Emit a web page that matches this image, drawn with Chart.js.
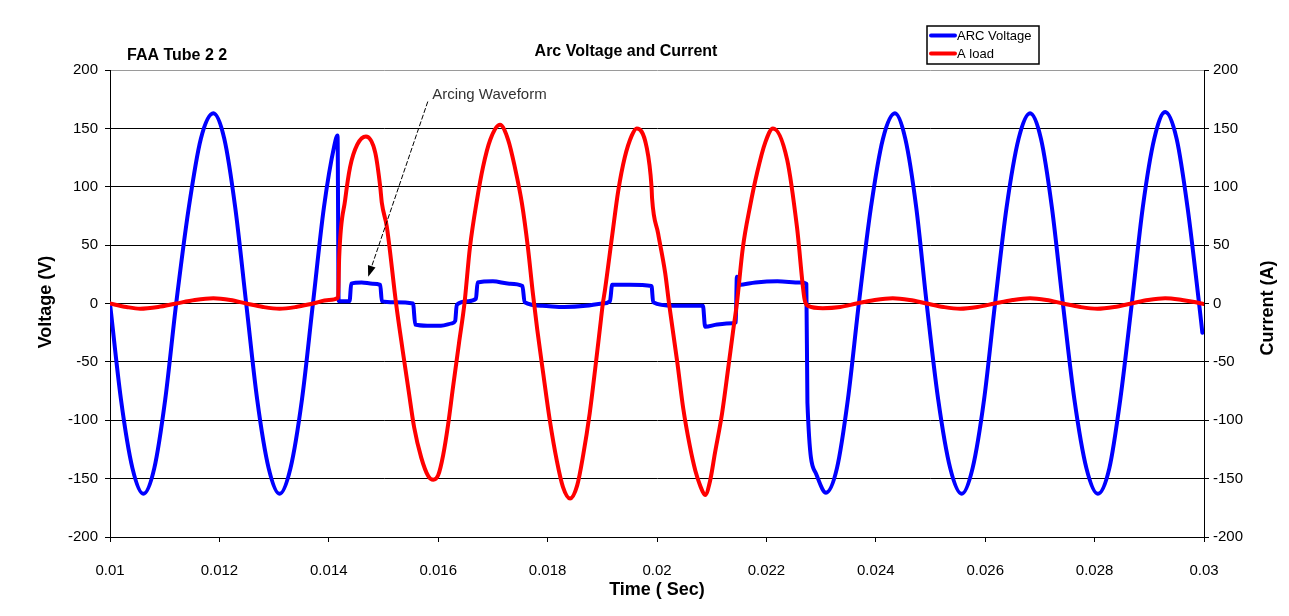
<!DOCTYPE html>
<html>
<head>
<meta charset="utf-8">
<title>Arc Voltage and Current</title>
<script src="https://cdn.jsdelivr.net/npm/chart.js@4.4.1/dist/chart.umd.min.js"></script>
<style>
  html, body { margin:0; padding:0; background:#fff; }
  #wrap { width:1289px; height:616px; position:relative; }
</style>
</head>
<body>
<div id="wrap"><canvas id="arcChart" width="1289" height="616"></canvas></div>
<script>
// Valores (tiempo en s)
const voltageTime = [
  0.01000,0.01020,0.01041,0.01061,0.01081,0.01101,0.01121,0.01144,0.01166,0.01189,0.01209,0.01229,
  0.01249,0.01269,0.01290,0.01310,0.01330,0.01351,0.01371,0.01391,0.01410,0.01416,0.01418,
  0.01438,0.01441,0.01460,0.01480,0.01494,0.01497,0.01520,0.01554,0.01558,0.01580,
  0.01605,0.01625,0.01631,0.01634,0.01655,0.01669,0.01672,0.01700,0.01730,0.01754,
  0.01758,0.01790,0.01830,0.01870,0.01900,0.01914,0.01918,0.01950,0.01990,0.01993,
  0.02030,0.02084,0.02088,0.02110,0.02139,0.02144,0.02146,0.02150,0.02180,0.02220,
  0.02262,0.02273,
  0.02275,0.02290,0.02309,0.02329,0.02349,0.02369,0.02391,0.02413,0.02435,0.02454,0.02474,0.02493,
  0.02514,0.02536,0.02557,0.02577,0.02598,0.02618,0.02639,0.02661,0.02682,0.02702,0.02722,0.02742,
  0.02763,0.02785,0.02806,0.02827,0.02847,0.02868,0.02888,0.02909,0.02929,0.02950,0.02970,0.02991,0.02997
];
const voltage = [
  0,-82,-141,-163,-141,-82,0,82,141,163,141,82,
  0,-82,-141,-163,-141,-82,0,82,135,144,2,
  2,17,18,17,16,2,1,0,-18,-19,
  -19,-17,-15,-1,2,4,18,19,17,15,
  1,-2,-3,-2,0,2,16,16,15,1,
  -2,-2,-20,-18,-17,-16,23,16,18,19,
  18,17,
  -85,-145,-162,-141,-82,0,82,141,163,141,82,0,
  -82,-141,-163,-141,-82,0,82,141,163,141,82,0,
  -82,-141,-163,-141,-82,0,82,141,164,141,82,0,-25
];

const currentTime = [
  0.01000,0.01030,0.01055,0.01088,0.01121,0.01155,0.01189,0.01220,0.01249,0.01280,0.01310,0.01340,0.01371,0.01400,0.01417,
  0.01419,0.01430,0.01439,0.01452,0.01468,0.01485,0.01494,0.01497,0.01506,0.01523,
  0.01535,0.01546,0.01556,0.01569,0.01582,0.01591,0.01600,0.01609,0.01618,0.01627,0.01638,0.01648,
  0.01658,0.01671,0.01682,0.01695,0.01713,0.01728,0.01740,0.01753,0.01764,0.01773,
  0.01781,0.01792,0.01804,0.01817,0.01828,0.01841,0.01854,0.01865,0.01877,0.01887,0.01896,0.01901,
  0.01905,0.01918,0.01929,0.01941,0.01954,0.01963,0.01981,0.01990,0.01991,0.02002,0.02015,0.02022,
  0.02037,0.02048,0.02060,0.02070,0.02079,0.02088,0.02097,0.02106,0.02119,0.02130,0.02139,0.02146,
  0.02157,0.02170,0.02183,0.02198,0.02212,0.02238,0.02256,0.02270,
  0.02276,0.02303,0.02335,0.02365,0.02398,0.02431,0.02462,0.02493,0.02524,0.02554,0.02586,0.02617,
  0.02650,0.02682,0.02712,0.02742,0.02774,0.02805,0.02836,0.02867,0.02898,0.02929,0.02960,0.02985,0.03000
];
const current = [
  0,-3,-4.5,-3,0,3,4.5,3,0,-3,-4.5,-3,0,3,5,
  40,89,117,136,143,129,100,86,66,0,
  -40,-75,-106,-132,-148,-151,-147,-130,-104,-72,-34,0,
  48,89,117,140,153,140,117,86,48,9,
  -22,-60,-100,-135,-157,-167,-156,-130,-94,-56,-20,0,
  12,58,96,125,144,150,134,100,90,60,26,0,
  -50,-90,-122,-143,-156,-164,-152,-128,-94,-56,-24,0,
  48,83,112,138,150,123,65,3,
  -2,-4,-3,0,3,4.5,3,0,-3,-4.5,-3,0,
  3,4.5,3,0,-3,-4.5,-3,0,3,4.5,3,1,-0.5
];

const xTicks = [0.01,0.012,0.014,0.016,0.018,0.02,0.022,0.024,0.026,0.028,0.03];
const xTickLabels = ['0.01','0.012','0.014','0.016','0.018','0.02','0.022','0.024','0.026','0.028','0.03'];
const yTicks = [-200,-150,-100,-50,0,50,100,150,200];

const FONT = "'Liberation Sans', Arial, sans-serif";
Chart.defaults.font.family = FONT;
Chart.defaults.color = '#000';

const zip = (xs, ys) => xs.map((x, i) => ({x, y: ys[i]}));

// textos, leyenda y flecha
const decor = {
  id: 'decor',
  afterDraw(chart){
    const c = chart.ctx;
    const sx = chart.scales.x, sy = chart.scales.y;
    c.save();
    c.fillStyle = '#000';
    c.textBaseline = 'middle';

    c.font = 'bold 16px ' + FONT;
    c.textAlign = 'center';
    c.fillText('Arc Voltage and Current', 626, 52);
    c.textAlign = 'left';
    c.fillText('FAA Tube 2 2', 127, 56);

    c.font = 'bold 18px ' + FONT;
    c.textAlign = 'center';
    c.fillText('Time ( Sec)', 657, 590);
    c.save(); c.translate(46, 302); c.rotate(-Math.PI/2); c.fillText('Voltage (V)', 0, 0); c.restore();
    c.save(); c.translate(1268, 308); c.rotate(-Math.PI/2); c.fillText('Current (A)', 0, 0); c.restore();

    // leyenda
    c.fillStyle = '#fff';
    c.fillRect(927, 26, 112, 38);
    c.strokeStyle = '#000'; c.lineWidth = 1.5;
    c.strokeRect(927, 26, 112, 38);
    c.lineWidth = 4; c.lineCap = 'round';
    c.strokeStyle = '#0000ff';
    c.beginPath(); c.moveTo(931, 35.5); c.lineTo(955, 35.5); c.stroke();
    c.strokeStyle = '#ff0000';
    c.beginPath(); c.moveTo(931, 53.5); c.lineTo(955, 53.5); c.stroke();
    c.fillStyle = '#000';
    c.font = '13px ' + FONT;
    c.textAlign = 'left';
    c.fillText('ARC Voltage', 957, 36);
    c.fillText('A load', 957, 54);

    // anotacion
    c.font = '15px ' + FONT;
    c.fillStyle = '#333';
    c.fillText('Arcing Waveform', sx.getPixelForValue(0.01589), sy.getPixelForValue(179));
    const x0 = sx.getPixelForValue(0.01581), y0 = sy.getPixelForValue(173);
    const x1 = sx.getPixelForValue(0.01472), y1 = sy.getPixelForValue(23);
    const a = Math.atan2(y1 - y0, x1 - x0);
    c.strokeStyle = '#000'; c.lineWidth = 1; c.lineCap = 'butt';
    c.setLineDash([5, 2]);
    c.beginPath(); c.moveTo(x0, y0); c.lineTo(x1 - 8*Math.cos(a), y1 - 8*Math.sin(a)); c.stroke();
    c.setLineDash([]);
    c.fillStyle = '#000';
    c.beginPath();
    c.moveTo(x1, y1);
    c.lineTo(x1 - 11*Math.cos(a) + 4*Math.sin(a), y1 - 11*Math.sin(a) - 4*Math.cos(a));
    c.lineTo(x1 - 11*Math.cos(a) - 4*Math.sin(a), y1 - 11*Math.sin(a) + 4*Math.cos(a));
    c.closePath(); c.fill();
    c.restore();
  }
};

new Chart(document.getElementById('arcChart'), {
  type: 'line',
  data: {
    datasets: [
      {
        label: 'ARC Voltage',
        data: zip(voltageTime, voltage),
        yAxisID: 'y',
        borderColor: '#0000ff',
        order: 2
      },
      {
        label: 'A load',
        data: zip(currentTime, current),
        yAxisID: 'y2',
        borderColor: '#ff0000',
        order: 1
      }
    ]
  },
  options: {
    responsive: false,
    devicePixelRatio: 1,
    animation: false,
    events: [],
    layout: { padding: { top: 70, left: 0, right: 0, bottom: 0 } },
    elements: {
      line: { borderWidth: 4, cubicInterpolationMode: 'monotone', borderJoinStyle: 'round', borderCapStyle: 'round', fill: false },
      point: { radius: 0 }
    },
    plugins: { legend: { display: false }, tooltip: { enabled: false }, title: { display: false } },
    scales: {
      x: {
        type: 'linear', min: 0.01, max: 0.03,
        afterBuildTicks: s => { s.ticks = xTicks.map(v => ({value: v})); },
        afterFit: s => { s.height = 79; },
        grid: { drawOnChartArea: false, drawTicks: true, tickLength: 5, tickColor: '#000' },
        border: { display: true, color: '#000', width: 1 },
        ticks: { font: { size: 15 }, color: '#000', padding: 20, maxRotation: 0, callback: (v, i) => xTickLabels[i] }
      },
      y: {
        type: 'linear', position: 'left', min: -200, max: 200,
        afterBuildTicks: s => { s.ticks = yTicks.map(v => ({value: v})); },
        afterFit: s => { s.width = 110; },
        grid: { color: c => (c.tick && c.tick.value === 200) ? '#9a9a9a' : '#000', lineWidth: 1, tickLength: 5, tickColor: '#000' },
        border: { display: true, color: '#000', width: 1 },
        ticks: { font: { size: 15 }, color: '#000', padding: 7 }
      },
      y2: {
        type: 'linear', position: 'right', min: -200, max: 200,
        afterBuildTicks: s => { s.ticks = yTicks.map(v => ({value: v})); },
        afterFit: s => { s.width = 85; },
        grid: { drawOnChartArea: false, tickLength: 5, tickColor: '#000' },
        border: { display: true, color: '#000', width: 1 },
        ticks: { font: { size: 15 }, color: '#000', padding: 4 }
      }
    }
  },
  plugins: [decor]
});
</script>
</body>
</html>
